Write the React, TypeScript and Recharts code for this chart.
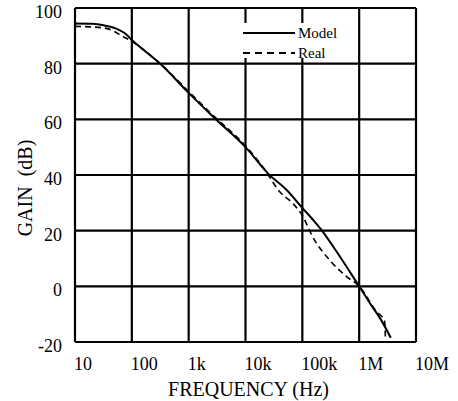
import React from 'react';
import { LineChart, Line, XAxis, YAxis, CartesianGrid, Legend, Label } from 'recharts';

// frequency in Hz, gain in dB
const modelFreq = [10, 20, 32, 50, 80, 100, 160, 316, 1000, 3000, 10000, 25000, 52000, 100000, 160000, 230000, 400000, 1000000, 1600000, 2500000, 3600000];
const modelGain = [94.4, 94.3, 93.8, 92.8, 90.5, 88.5, 85, 80, 69.5, 60, 50, 40.5, 34.8, 28.2, 23.5, 19.6, 12.5, 0, -6.5, -12.5, -18.5];

const realFreq = [10, 20, 37, 72, 100, 160, 316, 1000, 3000, 10000, 20000, 40000, 70000, 100000, 150000, 300000, 600000, 1000000, 2000000, 2800000, 2900000];
const realGain = [93.4, 93.2, 92.6, 89.6, 88, 85, 80, 70, 60.5, 50.5, 43, 34, 29.5, 25.5, 18, 9.5, 3.5, 0, -9, -12.5, -19];

const freqTicks = [10, 100, 1000, 10000, 100000, 1000000, 10000000];
const freqLabels = ['10', '100', '1k', '10k', '100k', '1M', '10M'];
const gainTicks = [-20, 0, 20, 40, 60, 80, 100];

const toRows = (f: number[], g: number[]) => f.map((freq, i) => ({ freq, gain: g[i] }));
const modelData = toRows(modelFreq, modelGain);
const realData = toRows(realFreq, realGain);

const FONT = '"Liberation Serif", "Times New Roman", serif';

const series = [
    { name: 'Model', dash: undefined as string | undefined },
    { name: 'Real', dash: '7 5' },
];

const FreqTick = (props: any) => {
    const { x, y, payload } = props;
    const idx = freqTicks.indexOf(payload.value);
    return (
        <text x={x - 1} y={y + 20} textAnchor="start" fontFamily={FONT} fontSize={18} fill="#000">
            {freqLabels[idx]}
        </text>
    );
};

const GainTick = (props: any) => {
    const { x, y, payload } = props;
    return (
        <text x={x} y={y + 4} textAnchor="end" dominantBaseline="central" fontFamily={FONT} fontSize={18} fill="#000">
            {payload.value}
        </text>
    );
};

const renderLegend = () => (
    <div style={{ position: 'relative', background: '#fff', width: 100, height: 35, fontFamily: FONT, fontSize: 15 }}>
        {series.map((s, i) => (
            <div
                key={s.name}
                style={{ position: 'absolute', left: 0, top: 10 + i * 20, transform: 'translateY(-50%)', display: 'flex', alignItems: 'center' }}
            >
                <svg width={56} height={4}>
                    <line x1={3} y1={2} x2={55} y2={2} stroke="#000" strokeWidth={2} strokeDasharray={s.dash} />
                </svg>
                <span style={{ marginLeft: 2, lineHeight: '16px' }}>{s.name}</span>
            </div>
        ))}
    </div>
);

const App: React.FC = () => {
    return (
        <div style={{ position: 'absolute', left: 0, top: 0, background: '#fff' }}>
            <LineChart width={458} height={401} margin={{ top: 8, right: 42, left: 0, bottom: 0 }}>
                <CartesianGrid stroke="#000" strokeWidth={2.2} />
                <XAxis
                    dataKey="freq"
                    type="number"
                    scale="log"
                    domain={[10, 10000000]}
                    ticks={freqTicks}
                    interval={0}
                    height={59}
                    axisLine={false}
                    tickLine={false}
                    tick={<FreqTick />}
                    allowDuplicatedCategory={false}
                >
                    <Label
                        content={(p: any) => {
                            const vb = p.viewBox;
                            return (
                                <text x={vb.x + vb.width / 2 + 3} y={vb.y + 54} textAnchor="middle" fontFamily={FONT} fontSize={20} fill="#000">
                                    FREQUENCY (Hz)
                                </text>
                            );
                        }}
                    />
                </XAxis>
                <YAxis
                    type="number"
                    domain={[-20, 100]}
                    ticks={gainTicks}
                    interval={0}
                    width={75}
                    axisLine={false}
                    tickLine={false}
                    tickMargin={7}
                    tick={<GainTick />}
                >
                    <Label
                        content={(p: any) => {
                            const vb = p.viewBox;
                            const cx = vb.x + 25;
                            const cy = vb.y + vb.height / 2 + 13;
                            return (
                                <text x={cx} y={cy} transform={`rotate(-90 ${cx} ${cy})`} textAnchor="middle" dominantBaseline="central" fontFamily={FONT} fontSize={20} fill="#000">
                                    {'GAIN\u00a0\u00a0(dB)'}
                                </text>
                            );
                        }}
                    />
                </YAxis>
                <Legend
                    content={renderLegend}
                    layout="vertical"
                    verticalAlign="middle"
                    align="center"
                    wrapperStyle={{ left: 240, top: 23, width: 100 }}
                />
                <Line data={modelData} dataKey="gain" name="Model" type="monotone" stroke="#000" strokeWidth={2} dot={false} isAnimationActive={false} />
                <Line data={realData} dataKey="gain" name="Real" type="monotone" stroke="#000" strokeWidth={1.6} strokeDasharray="6 4" dot={false} isAnimationActive={false} />
            </LineChart>
        </div>
    );
};

export default App;
